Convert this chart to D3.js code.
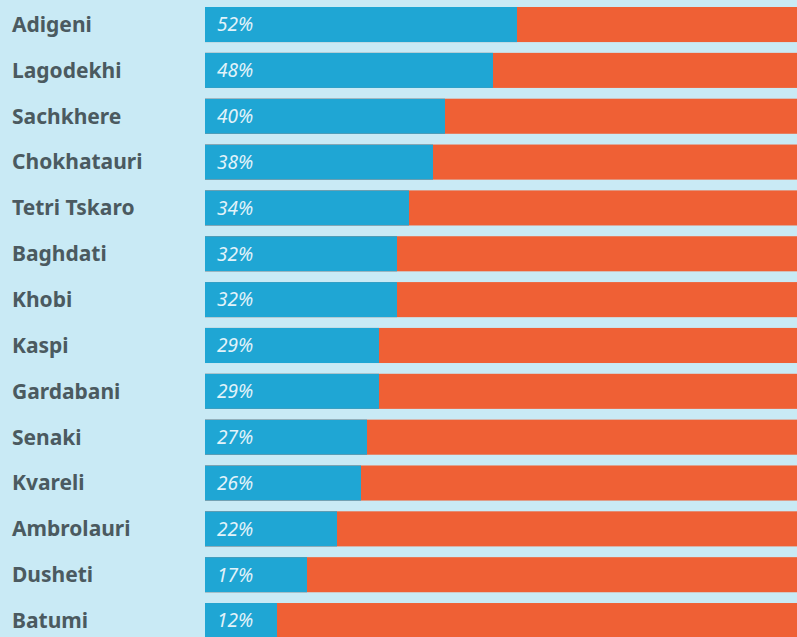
<!DOCTYPE html>
<html>
<head>
<meta charset="utf-8">
<script src="https://cdn.jsdelivr.net/npm/d3@7"></script>
<style>
  body { margin: 0; background: #c9eaf5; overflow: hidden; }
  svg { display: block; }
</style>
</head>
<body>
<svg id="chart" width="797" height="637"></svg>
<script>
const districts = ["Adigeni", "Lagodekhi", "Sachkhere", "Chokhatauri", "Tetri Tskaro", "Baghdati", "Khobi",
  "Kaspi", "Gardabani", "Senaki", "Kvareli", "Ambrolauri", "Dusheti", "Batumi"];
const shares = [52, 48, 40, 38, 34, 32, 32, 29, 29, 27, 26, 22, 17, 12];

const svg = d3.select("#chart");
const width = 797, height = 637;

svg.append("rect").attr("width", width).attr("height", height).attr("fill", "#c9eaf5");

// bands: first bar top ~7px, step ~45.85px
const y = d3.scaleBand()
  .domain(districts)
  .range([1.5, 643.6])
  .paddingInner(0.235)
  .paddingOuter(0.12);

// full bar = 100%, runs past the right edge
const x = d3.scaleLinear().domain([0, 100]).range([205, 805]);

const rows = svg.selectAll("g.row")
  .data(districts.map((d, i) => ({name: d, v: shares[i]})))
  .join("g")
  .attr("class", "row")
  .attr("transform", d => `translate(0,${y(d.name)})`);

rows.append("rect")
  .attr("x", x(0))
  .attr("width", x(100) - x(0))
  .attr("height", y.bandwidth())
  .attr("fill", "#ef6035");

rows.append("rect")
  .attr("x", x(0))
  .attr("width", d => x(d.v) - x(0))
  .attr("height", y.bandwidth())
  .attr("fill", "#1fa6d4");

rows.append("text")
  .attr("x", 12)
  .attr("y", y.bandwidth() / 2)
  .attr("dy", "0.35em")
  .attr("font-family", "'Noto Sans', sans-serif")
  .attr("font-weight", "bold")
  .attr("font-size", 21)
  .attr("fill", "#4b5a60")
  .text(d => d.name);

rows.append("text")
  .attr("x", x(0) + 12)
  .attr("y", y.bandwidth() / 2)
  .attr("dy", "0.36em")
  .attr("font-family", "'Noto Sans', sans-serif")
  .attr("font-size", 19)
  .attr("font-style", "italic")
  .attr("fill", "#e2f3fa")
  .text(d => d.v + "%");
</script>
</body>
</html>
